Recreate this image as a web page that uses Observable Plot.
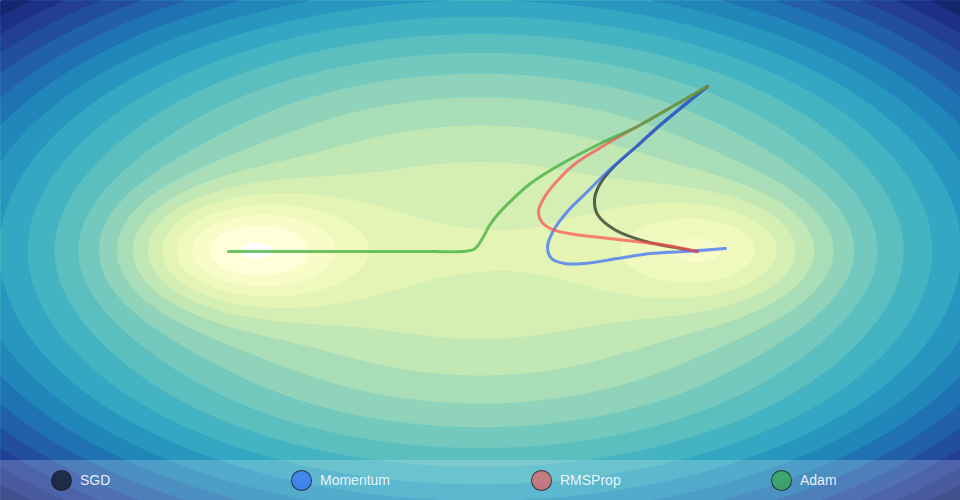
<!DOCTYPE html>
<html>
<head>
<meta charset="utf-8">
<script src="https://cdn.jsdelivr.net/npm/d3@7"></script>
<script src="https://cdn.jsdelivr.net/npm/@observablehq/plot@0.6"></script>
<style>
  body { margin: 0; background: white; }
  #wrap { position: relative; width: 960px; height: 500px; overflow: hidden; }
  #legend {
    position: absolute; left: 0; bottom: 0; width: 960px; height: 40px;
    background: rgba(255, 255, 255, 0.2);
    display: flex; align-items: center;
    font-family: "Liberation Sans", Arial, sans-serif; font-size: 14px;
    color: rgba(255, 255, 255, 0.88);
  }
  .item { width: 240px; display: flex; align-items: center; box-sizing: border-box; padding-left: 51px; }
  .dot { width: 19px; height: 19px; border-radius: 50%; border: 1px solid rgba(30, 30, 40, 0.8); margin-right: 8px; }
</style>
</head>
<body>
<div id="wrap">
  <div id="chart"></div>
  <div id="legend"></div>
</div>
<script>
// loss surface: bowl x^2 + y^2 with two gaussian wells (global left, local right)
let wellX = [-1, 1];
let wellDepth = [3, 2];
let wellWidth = 0.2;
let levels = d3.range(-2, 8.5, 0.5); // contour thresholds

// optimizer names + colours
let names = ['SGD', 'Momentum', 'RMSProp', 'Adam'];
let colors = ['#000000', '#3366ff', '#ff4d4d', '#33aa33'];

// paths, in loss-surface units
let sgdX = [0.946, 0.842, 0.7375, 0.65, 0.592, 0.533, 0.492, 0.475, 0.4875, 0.558, 0.6875, 0.833, 0.904];
let sgdY = [1.312, 1.152, 0.984, 0.832, 0.736, 0.624, 0.512, 0.408, 0.288, 0.168, 0.072, 0.016, -0.008];

let momX = [0.946, 0.842, 0.7375, 0.65, 0.592, 0.521, 0.442, 0.3625, 0.304, 0.279, 0.296, 0.35, 0.433, 0.571, 0.708, 0.846, 1.021, 0.917];
let momY = [1.312, 1.152, 0.984, 0.832, 0.736, 0.616, 0.464, 0.312, 0.16, 0.024, -0.064, -0.104, -0.104, -0.064, -0.024, -0.008, 0.016, 0];

let rmsX = [0.946, 0.8, 0.654, 0.571, 0.4875, 0.396, 0.325, 0.271, 0.242, 0.254, 0.3, 0.396, 0.571, 0.779, 0.904];
let rmsY = [1.312, 1.152, 0.992, 0.904, 0.808, 0.696, 0.568, 0.44, 0.32, 0.232, 0.168, 0.128, 0.088, 0.04, -0.008];

let adamX = [0.946, 0.8, 0.654, 0.5, 0.333, 0.208, 0.133, 0.075, 0.0375, 0.008, -0.025, -0.075, -0.2, -0.75, -1.05, -0.925];
let adamY = [1.312, 1.152, 0.992, 0.856, 0.688, 0.536, 0.408, 0.296, 0.2, 0.096, 0.012, -0.008, -0.008, -0.008, -0.008, -0.008];

const loss = (x, y) => {
  let v = x * x + y * y;
  for (let i = 0; i < wellX.length; i++) {
    v -= wellDepth[i] * Math.exp(-((x - wellX[i]) ** 2 + y * y) / wellWidth);
  }
  return v;
};

const toRows = (xs, ys, name) => xs.map((x, i) => ({ x: x, y: ys[i], name: name }));
const paths = [
  toRows(sgdX, sgdY, 'SGD'),
  toRows(momX, momY, 'Momentum'),
  toRows(rmsX, rmsY, 'RMSProp'),
  toRows(adamX, adamY, 'Adam'),
];

let chart = Plot.plot({
  width: 960,
  height: 500,
  margin: 0,
  x: { domain: [-2, 2], axis: null },
  y: { domain: [-2, 2], axis: null },
  color: { type: 'linear', scheme: 'YlGnBu', domain: [-2, 8] },
  marks: [
    Plot.contour({
      x1: -2, x2: 2, y1: -2, y2: 2,
      fill: loss,
      thresholds: levels,
      pixelSize: 1,
      stroke: 'none',
    }),
    ...paths.map((rows, i) => Plot.line(rows, {
      x: 'x',
      y: 'y',
      stroke: colors[i],
      strokeWidth: 3,
      strokeOpacity: i == 0 ? 0.6 : 0.7,
      curve: 'catmull-rom',
    })),
  ],
});

d3.select('#chart').append(() => chart);

// legend bar along the bottom
const legend = d3.select('#legend');
names.forEach((n, i) => {
  const item = legend.append('div').attr('class', 'item');
  item.append('div').attr('class', 'dot')
    .style('background', d3.color(colors[i]).copy({ opacity: 0.6 }).formatRgb());
  item.append('span').text(n);
});
</script>
</body>
</html>
